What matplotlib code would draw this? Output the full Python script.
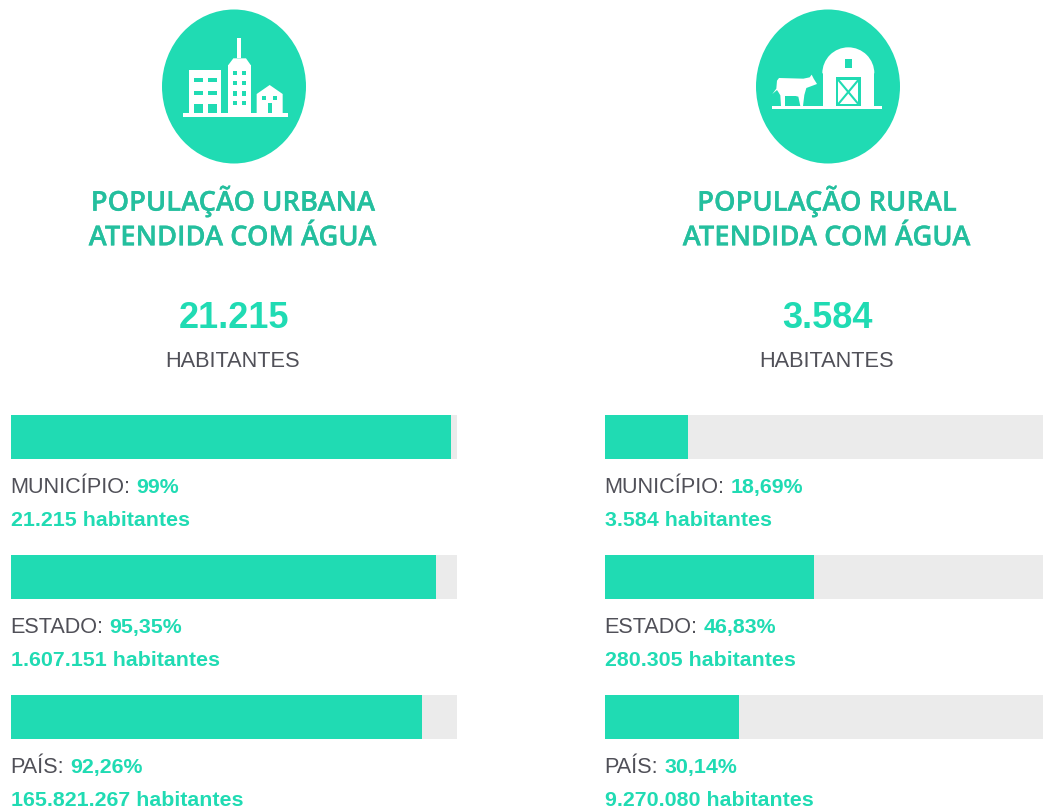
#!/usr/bin/env python3
# -*- coding: utf-8 -*-
"""
Water supply coverage panels (urban / rural)
"""
import matplotlib
matplotlib.use("Agg")
import matplotlib.pyplot as plt
import matplotlib.patheffects as pe
from matplotlib.patches import Ellipse, Polygon, Rectangle, Wedge

W, H = 1043, 811
TEAL = "#20dbb3"
TITLE_TEAL = "#24bf9e"
TRACK = "#ebebeb"
GREY = "#505058"
BODY = "Liberation Sans"
HEAD = "Open Sans"

titles = [["POPULAÇÃO URBANA", "ATENDIDA COM ÁGUA"],
          ["POPULAÇÃO RURAL", "ATENDIDA COM ÁGUA"]]
totals = ["21.215", "3.584"]
levels = ["MUNICÍPIO:", "ESTADO:", "PAÍS:"]
# first bar is a bit short of the rounded 99% in its label
urban_values = [98.7, 95.35, 92.26]
rural_values = [18.69, 46.83, 30.14]
urban_labels = ["99%", "95,35%", "92,26%"]
rural_labels = ["18,69%", "46,83%", "30,14%"]
urban_people = ["21.215 habitantes", "1.607.151 habitantes", "165.821.267 habitantes"]
rural_people = ["3.584 habitantes", "280.305 habitantes", "9.270.080 habitantes"]

fig = plt.figure(figsize=(W / 100, H / 100), dpi=100, facecolor="white")
bg = fig.add_axes([0, 0, 1, 1])
bg.set_xlim(0, W)
bg.set_ylim(H, 0)
bg.axis("off")


def box(x0, y0, x1, y1, color="white", dx=140):
    # icon shapes are in coords of the zoomed crop (3x)
    bg.add_patch(Rectangle((dx + x0 / 3, y0 / 3), (x1 - x0) / 3, (y1 - y0) / 3,
                           fc=color, ec="none", zorder=3))


def poly(points, color="white", dx=140):
    bg.add_patch(Polygon([(dx + x / 3, y / 3) for x, y in points],
                         closed=True, fc=color, ec="none", zorder=3))


def draw_city():
    box(130, 340, 443, 351)
    box(146, 210, 244, 340)
    for y0, y1 in [(234, 245), (273, 285), (312, 340)]:
        for x0, x1 in [(162, 188), (205, 232)]:
            box(x0, y0, x1, y1, TEAL)
    box(265, 195, 332, 340)
    poly([(265, 195), (280, 175), (318, 175), (332, 195)])
    box(292, 115, 303, 175)
    for y0 in [213, 243, 274, 303]:
        box(278, y0, 291, y0 + 13, TEAL)
        box(305, y0, 318, y0 + 13, TEAL)
    poly([(350, 340), (350, 282), (389, 255), (428, 282), (428, 340)])
    box(366, 287, 379, 300, TEAL)
    box(399, 287, 412, 300, TEAL)
    box(383, 310, 395, 340, TEAL)


def draw_barn():
    dx = 735
    box(112, 318, 441, 328, dx=dx)
    bg.add_patch(Wedge((dx + 340 / 3, 220 / 3), 78 / 3, 180, 360, fc="white", ec="none", zorder=3))
    box(263, 219, 418, 318, dx=dx)
    box(330, 177, 350, 203, TEAL, dx=dx)
    box(302, 230, 378, 318, TEAL, dx=dx)
    box(310, 240, 370, 312, dx=dx)
    bg.plot([dx + 310 / 3, dx + 370 / 3], [240 / 3, 312 / 3], color=TEAL, lw=1.5, zorder=4)
    bg.plot([dx + 370 / 3, dx + 310 / 3], [240 / 3, 312 / 3], color=TEAL, lw=1.5, zorder=4)
    # cow
    poly([(132, 234), (205, 236), (224, 232), (230, 224), (236, 236), (246, 252),
          (230, 258), (214, 264), (208, 285), (204, 318), (196, 318), (190, 290),
          (182, 288), (150, 288), (150, 318), (138, 318), (136, 286), (130, 276),
          (126, 270), (112, 282), (124, 266), (126, 242)], dx=dx)


def inked(x, y, s, **kw):
    return bg.text(x, y, s, va="baseline", **kw)


def panel(cx, left, width, title, total, values, labels, people):
    bg.add_patch(Ellipse((cx, 86.5), 144, 154, fc=TEAL, ec="none", zorder=2))
    for line, y in zip(title, [210.7, 245.3]):
        t = bg.text(cx - 1, y, line, ha="center", va="baseline", family=HEAD,
                    weight=600, fontsize=19.7, color=TITLE_TEAL)
        t.set_path_effects([pe.withStroke(linewidth=0.2, foreground=TITLE_TEAL)])
    bg.text(cx - 0.5, 328.3, total, ha="center", va="baseline", family=BODY,
            weight="bold", fontsize=26, color=TEAL)
    bg.text(cx - 1, 367.2, "HABITANTES", ha="center", va="baseline", family=BODY,
            fontsize=15.7, color=GREY)
    renderer = fig.canvas.get_renderer()
    for i, (level, value, label, count) in enumerate(zip(levels, values, labels, people)):
        top = 414.6 + 140 * i
        # track is the same 446 px wide on both sides, the right one runs off the page
        ax = fig.add_axes([left / W, 1 - (top + 44.6) / H, width / W, 44.6 / H])
        ax.barh([0], [100], height=1, color=TRACK)
        ax.barh([0], [value], height=1, color=TEAL)
        ax.set_xlim(0, 100)
        ax.set_ylim(-0.5, 0.5)
        ax.axis("off")
        t = inked(left - 0.5, top + 78.2, level, family=BODY, fontsize=15.6, color=GREY)
        end = t.get_window_extent(renderer).x1
        inked(end + 6, top + 78.2, label, family=BODY, weight="bold", fontsize=15.4, color=TEAL)
        inked(left, top + 111.3, count, family=BODY, weight="bold", fontsize=15.4, color=TEAL)


panel(234, 11, 446, titles[0], totals[0], urban_values, urban_labels, urban_people)
panel(828, 605, 446, titles[1], totals[1], rural_values, rural_labels, rural_people)
draw_city()
draw_barn()

fig.savefig("out.png", dpi=100)
